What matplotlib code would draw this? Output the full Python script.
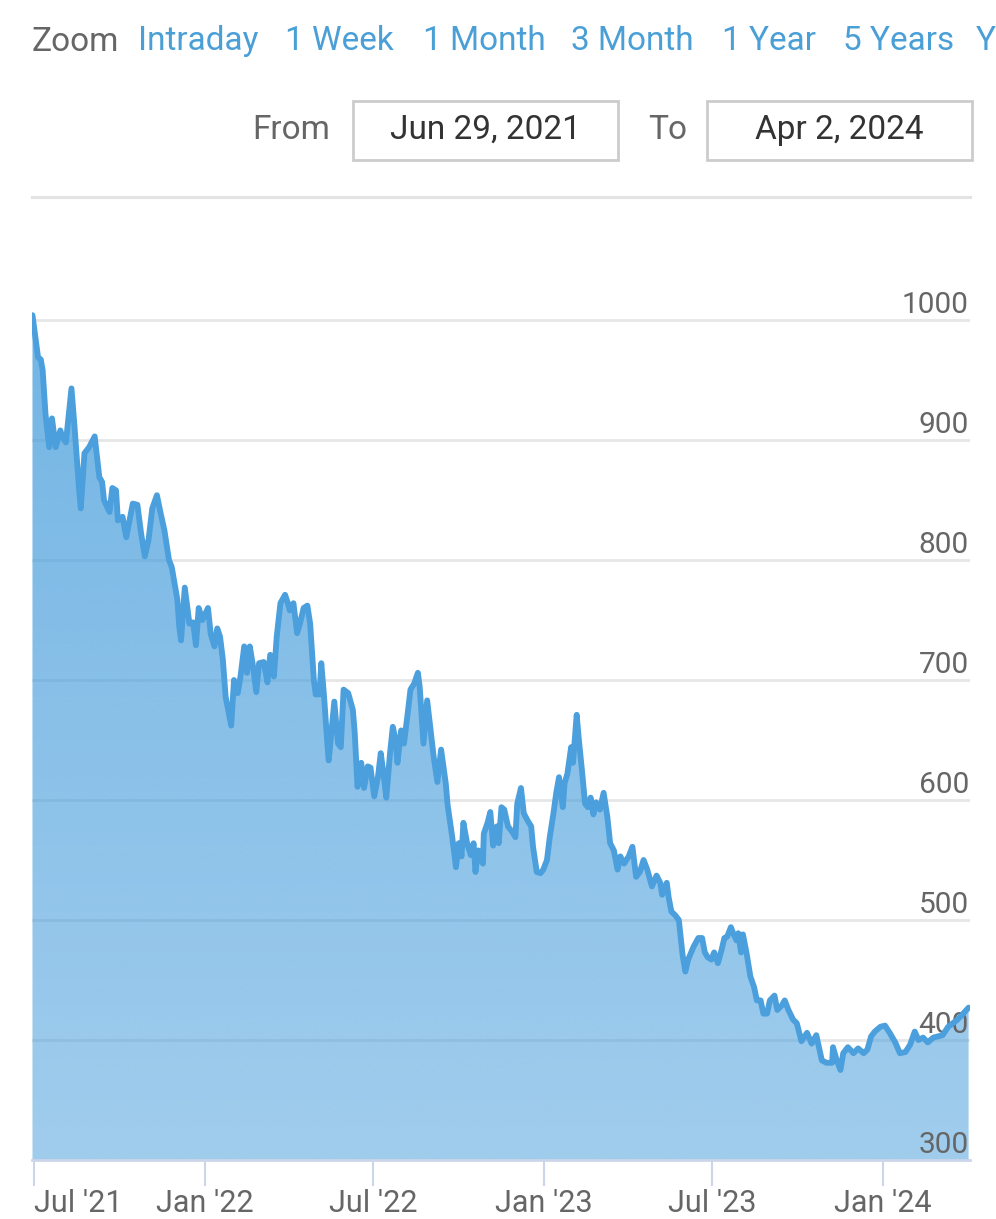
import numpy as np
import matplotlib
matplotlib.use("Agg")
import matplotlib.pyplot as plt
import matplotlib.dates as mdates
import matplotlib.transforms as mtransforms
from matplotlib.patches import Rectangle
from matplotlib.lines import Line2D

plt.rcParams['font.family'] = ['Roboto', 'DejaVu Sans']

# price series: days after Jun 29, 2021 and closing value
start_date = np.datetime64('2021-06-29')
day_offsets = [
    0, 6, 9, 11, 14, 18, 21, 25, 30, 32, 36, 42, 45, 50, 52, 56, 61, 67, 72, 75,
    77, 83, 86, 90, 92, 97, 101, 104, 108, 113, 117, 121, 125, 129, 134, 138, 142, 147, 150, 156,
    158, 160, 164, 169, 173, 176, 179, 183, 189, 192, 196, 199, 202, 205, 208, 214, 217, 221, 224, 228,
    231, 234, 237, 241, 244, 249, 253, 256, 260, 263, 267, 272, 275, 277, 281, 285, 288, 292, 296, 299,
    303, 305, 309, 311, 314, 318, 319, 325, 329, 332, 335, 340, 345, 347, 350, 354, 357, 361, 364, 368,
    372, 375, 378, 381, 385, 388, 391, 393, 397, 400, 404, 407, 411, 415, 417, 421, 425, 429, 432, 436,
    440, 445, 447, 452, 456, 459, 462, 464, 468, 472, 475, 477, 480, 485, 486, 490, 493, 496, 500, 502,
    505, 508, 512, 517, 520, 522, 526, 529, 533, 537, 539, 543, 547, 550, 554, 557, 561, 564, 567, 571,
    573, 576, 580, 582, 586, 588, 592, 595, 598, 601, 604, 607, 611, 615, 619, 622, 626, 630, 633, 637,
    642, 646, 650, 654, 658, 662, 667, 672, 676, 678, 683, 685, 688, 692, 696, 700, 703, 706, 712, 717,
    721, 724, 727, 731, 734, 738, 742, 745, 748, 752, 755, 758, 760, 763, 765, 769, 773, 777, 780, 784,
    787, 791, 794, 799, 802, 807, 810, 814, 819, 823, 828, 834, 839, 844, 850, 855, 861, 862, 866, 870,
    873, 878, 884, 889, 895, 899, 903, 907, 913, 918, 923, 929, 934, 940, 945, 950, 954, 959, 964, 970,
    975, 980, 986, 991, 996, 1001, 1008,
]
prices = [
    1004, 969, 967, 958, 922, 894, 918, 894, 908, 903, 898, 943, 914, 861, 843, 889, 894, 903, 869, 865,
    850, 840, 860, 858, 833, 836, 819, 831, 847, 846, 822, 803, 817, 843, 854, 839, 825, 800, 794, 767,
    745, 733, 777, 747, 748, 729, 760, 750, 760, 738, 728, 743, 736, 717, 686, 662, 700, 689, 703, 728,
    706, 728, 714, 690, 714, 715, 698, 721, 703, 736, 764, 771, 764, 758, 764, 739, 747, 760, 762, 747,
    700, 688, 688, 714, 686, 642, 633, 682, 647, 644, 692, 689, 675, 656, 611, 631, 610, 628, 627, 603,
    619, 639, 622, 602, 639, 661, 650, 631, 658, 647, 672, 692, 697, 706, 694, 647, 683, 656, 636, 615,
    642, 614, 596, 569, 544, 564, 553, 581, 564, 554, 564, 540, 558, 547, 572, 581, 590, 562, 578, 564,
    594, 592, 578, 573, 569, 597, 610, 589, 583, 578, 561, 540, 539, 542, 550, 569, 589, 606, 619, 594,
    614, 622, 644, 631, 671, 653, 622, 597, 594, 602, 588, 598, 592, 606, 586, 564, 558, 542, 553, 547,
    553, 561, 536, 540, 550, 542, 528, 537, 531, 521, 531, 519, 507, 504, 500, 471, 457, 467, 478, 485,
    485, 473, 469, 467, 473, 464, 475, 485, 486, 494, 488, 483, 489, 473, 488, 472, 453, 444, 433, 433,
    422, 422, 433, 437, 425, 429, 433, 425, 417, 414, 399, 406, 397, 404, 383, 381, 381, 394, 383, 375,
    389, 394, 389, 393, 389, 392, 403, 407, 411, 412, 406, 398, 389, 390, 396, 407, 400, 402, 398, 402,
    403, 404, 411, 414, 417, 421, 427,
]
y_ticks = [300, 400, 500, 600, 700, 800, 900, 1000]
x_tick_dates = ['2021-07-01', '2022-01-01', '2022-07-01', '2023-01-01', '2023-07-01', '2024-01-01']
x_tick_labels = ["Jul '21", "Jan '22", "Jul '22", "Jan '23", "Jul '23", "Jan '24"]
zoom_buttons = ['Intraday', '1 Week', '1 Month', '3 Month', '1 Year', '5 Years', 'YTD']
range_from = 'Jun 29, 2021'
range_to = 'Apr 2, 2024'

W, H = 996, 1219
fig = plt.figure(figsize=(W / 100, H / 100), dpi=100)


def fx(x):
    return x / W


def fy(y):
    return 1 - y / H


grey = '#666666'
blue_txt = '#4a9fd6'
line_blue = '#4a9fdc'
top_fs = 24

# top controls
fig.text(fx(32), fy(51), 'Zoom', fontsize=top_fs, color=grey, va='baseline')
for label, x in zip(zoom_buttons, [138, 285, 423, 571, 722, 843, 976]):
    fig.text(fx(x), fy(50), label, fontsize=top_fs, color=blue_txt, va='baseline')

fig.text(fx(330), fy(139), 'From', fontsize=top_fs, color=grey, va='baseline', ha='right')
fig.text(fx(687), fy(139), 'To', fontsize=top_fs, color=grey, va='baseline', ha='right')
for x0, x1, txt in [(353, 618, range_from), (707, 972, range_to)]:
    fig.patches.append(Rectangle((fx(x0), fy(160)), fx(x1 - x0), (160 - 101) / H,
                                 transform=fig.transFigure, fill=False,
                                 edgecolor='#cccccc', lw=2))
    fig.text(fx((x0 + x1) / 2), fy(139), txt, fontsize=top_fs, color='#333333',
             va='baseline', ha='center')

fig.lines.append(Line2D([fx(32), fx(970)], [fy(197), fy(197)], transform=fig.transFigure,
                        color='#e3e3e3', lw=2.2))

# chart
ax = fig.add_axes([fx(32), fy(1160), fx(970 - 32), (1160 - 200) / H])
dates = start_date + np.array(day_offsets).astype('timedelta64[D]')
xs = mdates.date2num(dates.astype('datetime64[D]').astype(object))
xmin = mdates.date2num(np.datetime64('2021-06-28T12').astype(object))
xmax = mdates.date2num(np.datetime64('2024-04-03T12').astype(object))
ymin, ymax = 300, 1100
ax.set_xlim(xmin, xmax)
ax.set_ylim(ymin, ymax)

for v in y_ticks:
    ax.axhline(v, color='#e6e6e6', lw=2, zorder=0.5)

poly = ax.fill_between(xs, prices, ymin, facecolor='none', edgecolor='none')
base = np.array([72, 158, 220]) / 255
alphas = np.linspace(0.80, 0.52, 256)
grad = np.zeros((256, 1, 4))
grad[:, 0, :3] = base
grad[:, 0, 3] = alphas
im = ax.imshow(grad, extent=[xmin, xmax, ymin, ymax], aspect='auto', origin='upper',
               zorder=1, interpolation='bilinear')
im.set_clip_path(poly.get_paths()[0], transform=ax.transData)

ax.plot(xs, prices, color=line_blue, lw=4.2, solid_joinstyle='round',
        solid_capstyle='round', zorder=3)

lab_tr = mtransforms.offset_copy(mtransforms.blended_transform_factory(ax.transAxes, ax.transData),
                                 fig=fig, x=-1, y=7, units='dots')
for v in y_ticks:
    ax.text(1.0, v, str(v), transform=lab_tr, ha='right', va='baseline',
            fontsize=21.5, color=grey, zorder=2)

tick_pos = mdates.date2num([np.datetime64(d).astype(object) for d in x_tick_dates])
ax.set_xticks(tick_pos)
ax.set_xticklabels(x_tick_labels)
ax.tick_params(axis='x', length=19, width=1.5, color='#ccd6eb', labelsize=22,
               labelcolor=grey, pad=2)
ax.get_xticklabels()[0].set_ha('left')
ax.set_yticks([])
for s in ['top', 'left', 'right']:
    ax.spines[s].set_visible(False)
ax.spines['bottom'].set_color('#ccd6eb')
ax.spines['bottom'].set_linewidth(2)
ax.set_facecolor('none')

fig.savefig('out.png', dpi=100)
